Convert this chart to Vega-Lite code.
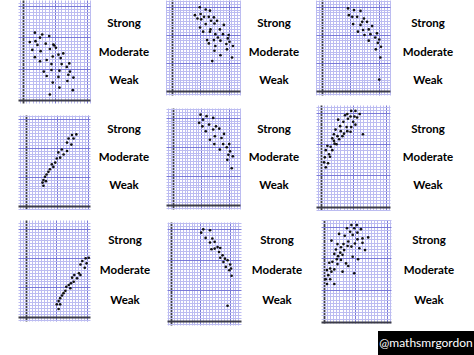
{
  "$schema": "https://vega.github.io/schema/vega-lite/v6.json",
  "padding": {"left": 18, "top": 0, "right": 0, "bottom": 0},
  "background": "white",
  "spacing": 0,
  "config": {
    "font": "Lato",
    "view": {"stroke": null},
    "axis": {
      "grid": true, "labels": false, "ticks": false, "domain": false, "title": null,
      "gridColor": {"condition": [{"test": "datum.value === 0", "value": "#3c3c48"}, {"test": "datum.value % 10 === 0", "value": "#7a7ad8"}], "value": "#bcbcf1"},
      "gridWidth": {"condition": {"test": "datum.value === 0", "value": 1.8}, "value": 1},
      "gridOpacity": 1
    },
    "point": {"filled": true, "size": 7, "color": "#111111", "opacity": 1}
  },
  "datasets": {
    "none": [],
    "labels": [{"label": "Strong"}, {"label": "Moderate"}, {"label": "Weak"}],
    "p1": [{"x":3.7,"y":21.5},{"x":6.0,"y":20.9},{"x":8.2,"y":20.4},{"x":2.1,"y":18.5},{"x":3.9,"y":18.8},{"x":5.3,"y":19.9},{"x":4.5,"y":17.6},{"x":7.1,"y":18.0},{"x":9.5,"y":17.7},{"x":9.8,"y":17.4},{"x":2.9,"y":16.0},{"x":5.5,"y":15.6},{"x":8.4,"y":16.3},{"x":10.3,"y":16.7},{"x":11.1,"y":14.5},{"x":12.6,"y":14.9},{"x":3.7,"y":13.7},{"x":5.3,"y":12.4},{"x":7.4,"y":12.8},{"x":9.3,"y":13.9},{"x":11.8,"y":13.4},{"x":14.5,"y":11.7},{"x":8.9,"y":11.5},{"x":12.1,"y":11.5},{"x":13.7,"y":10.6},{"x":6.5,"y":9.1},{"x":8.9,"y":9.6},{"x":11.4,"y":9.4},{"x":14.7,"y":9.1},{"x":7.4,"y":7.7},{"x":11.1,"y":7.4},{"x":14.2,"y":8.1},{"x":15.8,"y":7.2},{"x":9.3,"y":5.6},{"x":13.9,"y":6.1},{"x":11.4,"y":4.0},{"x":15.6,"y":3.2},{"x":8.4,"y":1.8}],
    "p2": [{"x":9.8,"y":29.8},{"x":11.9,"y":29.0},{"x":13.4,"y":28.6},{"x":8.1,"y":27.0},{"x":10.1,"y":27.4},{"x":11.3,"y":26.4},{"x":13.0,"y":26.4},{"x":14.8,"y":26.2},{"x":9.0,"y":25.8},{"x":10.3,"y":25.5},{"x":13.8,"y":25.0},{"x":15.9,"y":25.0},{"x":11.9,"y":23.8},{"x":15.0,"y":24.0},{"x":18.3,"y":23.5},{"x":9.9,"y":22.6},{"x":13.6,"y":21.9},{"x":16.9,"y":21.9},{"x":11.0,"y":21.1},{"x":13.4,"y":21.1},{"x":15.3,"y":20.2},{"x":18.0,"y":20.2},{"x":20.0,"y":19.9},{"x":16.2,"y":19.0},{"x":19.7,"y":18.7},{"x":12.4,"y":18.1},{"x":14.8,"y":18.1},{"x":17.1,"y":17.9},{"x":20.3,"y":17.5},{"x":13.0,"y":16.9},{"x":19.2,"y":16.7},{"x":21.5,"y":16.0},{"x":15.3,"y":16.0},{"x":19.4,"y":14.8},{"x":15.0,"y":14.3},{"x":17.1,"y":12.7},{"x":21.2,"y":11.9},{"x":14.2,"y":10.6}],
    "p3": [{"x":9.2,"y":29.4},{"x":11.3,"y":28.8},{"x":13.6,"y":28.5},{"x":9.5,"y":27.0},{"x":10.7,"y":26.4},{"x":12.4,"y":26.4},{"x":14.8,"y":25.8},{"x":14.2,"y":24.6},{"x":15.9,"y":24.6},{"x":11.0,"y":23.8},{"x":13.6,"y":23.5},{"x":17.7,"y":23.1},{"x":16.5,"y":21.9},{"x":14.5,"y":21.7},{"x":12.7,"y":21.1},{"x":19.4,"y":20.5},{"x":17.1,"y":20.2},{"x":15.0,"y":19.9},{"x":18.8,"y":19.0},{"x":20.2,"y":18.3},{"x":16.5,"y":17.9},{"x":19.7,"y":17.1},{"x":20.8,"y":15.7},{"x":19.0,"y":14.8},{"x":20.6,"y":11.9},{"x":20.2,"y":4.0}],
    "p4": [{"x":14.9,"y":24.4},{"x":16.3,"y":24.6},{"x":13.8,"y":23.2},{"x":15.4,"y":23.2},{"x":13.3,"y":21.8},{"x":14.7,"y":21.1},{"x":11.6,"y":19.4},{"x":13.3,"y":18.9},{"x":10.5,"y":18.4},{"x":12.2,"y":17.7},{"x":11.1,"y":16.6},{"x":10.0,"y":16.3},{"x":9.5,"y":14.9},{"x":8.4,"y":14.3},{"x":8.9,"y":13.4},{"x":7.8,"y":12.6},{"x":7.3,"y":11.7},{"x":6.7,"y":10.8},{"x":6.2,"y":10.0},{"x":5.7,"y":8.9},{"x":5.4,"y":8.0},{"x":6.5,"y":8.5},{"x":5.7,"y":6.9}],
    "p5": [{"x":9.8,"y":31.0},{"x":12.0,"y":30.5},{"x":14.4,"y":29.9},{"x":10.7,"y":29.3},{"x":9.3,"y":28.2},{"x":12.9,"y":27.6},{"x":15.4,"y":27.0},{"x":10.5,"y":27.0},{"x":14.4,"y":25.9},{"x":16.6,"y":26.2},{"x":11.7,"y":25.3},{"x":18.3,"y":24.4},{"x":15.0,"y":23.6},{"x":13.2,"y":22.4},{"x":17.4,"y":23.0},{"x":14.8,"y":20.9},{"x":18.0,"y":20.9},{"x":20.2,"y":20.9},{"x":16.8,"y":19.0},{"x":19.3,"y":19.8},{"x":20.5,"y":18.4},{"x":19.9,"y":17.2},{"x":21.5,"y":16.7},{"x":19.5,"y":15.5},{"x":21.1,"y":12.6}],
    "p6": [{"x":9.3,"y":30.7},{"x":10.6,"y":30.7},{"x":8.1,"y":29.7},{"x":11.9,"y":29.7},{"x":7.4,"y":29.3},{"x":9.1,"y":28.9},{"x":10.3,"y":28.9},{"x":11.1,"y":28.6},{"x":5.3,"y":27.9},{"x":8.3,"y":28.2},{"x":6.9,"y":27.2},{"x":9.9,"y":27.2},{"x":5.9,"y":25.8},{"x":10.6,"y":26.3},{"x":4.5,"y":24.7},{"x":7.9,"y":25.5},{"x":9.3,"y":25.5},{"x":6.1,"y":24.2},{"x":8.1,"y":24.2},{"x":7.1,"y":23.4},{"x":9.1,"y":24.0},{"x":12.9,"y":23.2},{"x":4.0,"y":23.2},{"x":5.1,"y":22.6},{"x":6.6,"y":22.6},{"x":3.5,"y":21.9},{"x":5.6,"y":21.6},{"x":4.0,"y":21.1},{"x":4.2,"y":20.2},{"x":4.8,"y":20.0},{"x":3.0,"y":19.2},{"x":2.0,"y":19.5},{"x":3.5,"y":18.1},{"x":1.5,"y":18.1},{"x":2.5,"y":16.8},{"x":1.2,"y":15.8},{"x":2.8,"y":16.0},{"x":1.0,"y":14.2},{"x":2.2,"y":13.9},{"x":1.5,"y":12.6}],
    "p7": [{"x":20.5,"y":20.1},{"x":19.5,"y":19.9},{"x":18.4,"y":19.0},{"x":19.8,"y":18.2},{"x":17.8,"y":17.8},{"x":19.2,"y":16.7},{"x":17.3,"y":14.8},{"x":15.8,"y":14.2},{"x":17.8,"y":14.2},{"x":15.1,"y":13.3},{"x":16.7,"y":13.1},{"x":15.6,"y":11.9},{"x":14.7,"y":11.4},{"x":14.0,"y":10.8},{"x":13.2,"y":10.2},{"x":14.5,"y":9.7},{"x":12.9,"y":8.8},{"x":12.3,"y":8.0},{"x":11.8,"y":7.2},{"x":11.2,"y":6.3},{"x":10.7,"y":5.3},{"x":10.1,"y":4.2},{"x":11.2,"y":4.2},{"x":10.7,"y":2.6}],
    "p8": [{"x":11.0,"y":30.0},{"x":13.3,"y":29.7},{"x":10.3,"y":28.9},{"x":11.8,"y":27.2},{"x":14.1,"y":27.0},{"x":14.9,"y":25.9},{"x":13.3,"y":25.7},{"x":15.9,"y":24.2},{"x":16.8,"y":23.9},{"x":13.8,"y":23.5},{"x":14.9,"y":23.7},{"x":16.4,"y":22.6},{"x":17.6,"y":21.5},{"x":16.8,"y":20.7},{"x":18.4,"y":20.4},{"x":19.3,"y":19.9},{"x":17.9,"y":19.3},{"x":20.2,"y":18.5},{"x":18.7,"y":17.7},{"x":20.5,"y":17.2},{"x":19.9,"y":16.6},{"x":20.7,"y":14.8},{"x":19.3,"y":5.0}],
    "p9": [{"x":8.8,"y":30.5},{"x":10.5,"y":30.5},{"x":7.4,"y":29.5},{"x":9.7,"y":29.5},{"x":11.8,"y":29.2},{"x":8.4,"y":28.4},{"x":10.7,"y":28.1},{"x":4.9,"y":27.7},{"x":6.7,"y":27.1},{"x":9.2,"y":27.4},{"x":14.1,"y":26.6},{"x":12.3,"y":26.3},{"x":10.7,"y":26.0},{"x":2.5,"y":25.6},{"x":7.8,"y":25.3},{"x":9.9,"y":24.7},{"x":4.4,"y":24.5},{"x":6.3,"y":24.5},{"x":12.3,"y":24.9},{"x":5.5,"y":23.5},{"x":7.6,"y":23.9},{"x":8.8,"y":23.7},{"x":6.5,"y":22.6},{"x":11.3,"y":23.2},{"x":13.1,"y":22.6},{"x":3.9,"y":22.8},{"x":5.3,"y":21.8},{"x":3.4,"y":21.4},{"x":4.6,"y":20.7},{"x":6.0,"y":21.1},{"x":9.2,"y":20.5},{"x":4.2,"y":19.7},{"x":10.9,"y":19.7},{"x":5.5,"y":19.5},{"x":2.8,"y":18.9},{"x":1.8,"y":18.6},{"x":7.1,"y":18.4},{"x":4.4,"y":18.2},{"x":7.8,"y":17.6},{"x":2.1,"y":16.8},{"x":3.4,"y":16.5},{"x":1.1,"y":16.3},{"x":2.5,"y":15.8},{"x":6.0,"y":15.8},{"x":9.7,"y":15.3},{"x":1.5,"y":14.7},{"x":0.7,"y":13.4},{"x":2.1,"y":13.4},{"x":1.1,"y":11.9},{"x":3.4,"y":11.9}]
  },
  "vconcat": [
    {"spacing": 0, "hconcat": [
      {"width": 72, "height": 103, "data": {"name": "p1"}, "mark": "point",
       "encoding": {"x": {"field": "x", "type": "quantitative", "scale": {"domain": [-1.6, 21], "nice": false, "zero": false}, "axis": {"title": null, "values": [-1,0,1,2,3,4,5,6,7,8,9,10,11,12,13,14,15,16,17,18,19,20,21]}},
                    "y": {"field": "y", "type": "quantitative", "scale": {"domain": [-0.9, 31.9], "nice": false, "zero": false}, "axis": {"title": null, "values": [0,1,2,3,4,5,6,7,8,9,10,11,12,13,14,15,16,17,18,19,20,21,22,23,24,25,26,27,28,29,30,31]}}}},
      {"width": 76, "height": 105, "data": {"name": "labels"}, "mark": {"type": "text", "fontWeight": "bold", "fontSize": 11.5, "dx": -4, "baseline": "middle"},
       "encoding": {"y": {"field": "label", "type": "nominal", "sort": ["Strong", "Moderate", "Weak"], "scale": {"type": "point", "padding": 0.842}, "axis": null}, "text": {"field": "label"}}},
      {"width": 74, "height": 95, "data": {"name": "p2"}, "mark": "point",
       "encoding": {"x": {"field": "x", "type": "quantitative", "scale": {"domain": [-2.1, 24], "nice": false, "zero": false}, "axis": {"title": null, "values": [-2,-1,0,1,2,3,4,5,6,7,8,9,10,11,12,13,14,15,16,17,18,19,20,21,22,23,24]}},
                    "y": {"field": "y", "type": "quantitative", "scale": {"domain": [-1.5, 32.4], "nice": false, "zero": false}, "axis": {"title": null, "values": [-1,0,1,2,3,4,5,6,7,8,9,10,11,12,13,14,15,16,17,18,19,20,21,22,23,24,25,26,27,28,29,30,31,32]}}}},
      {"width": 76, "height": 105, "data": {"name": "labels"}, "mark": {"type": "text", "fontWeight": "bold", "fontSize": 11.5, "dx": -4, "baseline": "middle"},
       "encoding": {"y": {"field": "label", "type": "nominal", "sort": ["Strong", "Moderate", "Weak"], "scale": {"type": "point", "padding": 0.842}, "axis": null}, "text": {"field": "label"}}},
      {"width": 74, "height": 95, "data": {"name": "p3"}, "mark": "point",
       "encoding": {"x": {"field": "x", "type": "quantitative", "scale": {"domain": [-2.1, 24], "nice": false, "zero": false}, "axis": {"title": null, "values": [-2,-1,0,1,2,3,4,5,6,7,8,9,10,11,12,13,14,15,16,17,18,19,20,21,22,23,24]}},
                    "y": {"field": "y", "type": "quantitative", "scale": {"domain": [-1.5, 32.4], "nice": false, "zero": false}, "axis": {"title": null, "values": [-1,0,1,2,3,4,5,6,7,8,9,10,11,12,13,14,15,16,17,18,19,20,21,22,23,24,25,26,27,28,29,30,31,32]}}}},
      {"width": 84, "height": 105, "data": {"name": "labels"}, "mark": {"type": "text", "fontWeight": "bold", "fontSize": 11.5, "dx": -4, "baseline": "middle"},
       "encoding": {"y": {"field": "label", "type": "nominal", "sort": ["Strong", "Moderate", "Weak"], "scale": {"type": "point", "padding": 0.842}, "axis": null}, "text": {"field": "label"}}}
    ]},
    {"spacing": 0, "hconcat": [
      {"spacing": 0, "vconcat": [
        {"width": 72, "height": 10, "data": {"name": "none"}, "mark": {"type": "point"}},
        {"width": 72, "height": 94, "data": {"name": "p4"}, "mark": "point",
         "encoding": {"x": {"field": "x", "type": "quantitative", "scale": {"domain": [-2.5, 20.7], "nice": false, "zero": false}, "axis": {"title": null, "values": [-2,-1,0,1,2,3,4,5,6,7,8,9,10,11,12,13,14,15,16,17,18,19,20]}},
                      "y": {"field": "y", "type": "quantitative", "scale": {"domain": [-1.1, 31.3], "nice": false, "zero": false}, "axis": {"title": null, "values": [-1,0,1,2,3,4,5,6,7,8,9,10,11,12,13,14,15,16,17,18,19,20,21,22,23,24,25,26,27,28,29,30,31]}}}}
      ]},
      {"width": 76, "height": 106, "data": {"name": "labels"}, "mark": {"type": "text", "fontWeight": "bold", "fontSize": 11.5, "dx": -4, "baseline": "middle"},
       "encoding": {"y": {"field": "label", "type": "nominal", "sort": ["Strong", "Moderate", "Weak"], "scale": {"type": "point", "padding": 0.86}, "axis": null}, "text": {"field": "label"}}},
      {"spacing": 0, "vconcat": [
        {"width": 74, "height": 3, "data": {"name": "none"}, "mark": {"type": "point"}},
        {"width": 74, "height": 101, "data": {"name": "p5"}, "mark": "point",
         "encoding": {"x": {"field": "x", "type": "quantitative", "scale": {"domain": [-2.7, 24.1], "nice": false, "zero": false}, "axis": {"title": null, "values": [-2,-1,0,1,2,3,4,5,6,7,8,9,10,11,12,13,14,15,16,17,18,19,20,21,22,23,24]}},
                      "y": {"field": "y", "type": "quantitative", "scale": {"domain": [-1.4, 33.3], "nice": false, "zero": false}, "axis": {"title": null, "values": [-1,0,1,2,3,4,5,6,7,8,9,10,11,12,13,14,15,16,17,18,19,20,21,22,23,24,25,26,27,28,29,30,31,32,33]}}}}
      ]},
      {"width": 76, "height": 106, "data": {"name": "labels"}, "mark": {"type": "text", "fontWeight": "bold", "fontSize": 11.5, "dx": -4, "baseline": "middle"},
       "encoding": {"y": {"field": "label", "type": "nominal", "sort": ["Strong", "Moderate", "Weak"], "scale": {"type": "point", "padding": 0.86}, "axis": null}, "text": {"field": "label"}}},
      {"width": 74, "height": 105, "data": {"name": "p6"}, "mark": "point",
       "encoding": {"x": {"field": "x", "type": "quantitative", "scale": {"domain": [-1.5, 21.2], "nice": false, "zero": false}, "axis": {"title": null, "values": [-1,0,1,2,3,4,5,6,7,8,9,10,11,12,13,14,15,16,17,18,19,20,21]}},
                    "y": {"field": "y", "type": "quantitative", "scale": {"domain": [-1.1, 32.6], "nice": false, "zero": false}, "axis": {"title": null, "values": [-1,0,1,2,3,4,5,6,7,8,9,10,11,12,13,14,15,16,17,18,19,20,21,22,23,24,25,26,27,28,29,30,31,32]}}}},
      {"width": 84, "height": 106, "data": {"name": "labels"}, "mark": {"type": "text", "fontWeight": "bold", "fontSize": 11.5, "dx": -4, "baseline": "middle"},
       "encoding": {"y": {"field": "label", "type": "nominal", "sort": ["Strong", "Moderate", "Weak"], "scale": {"type": "point", "padding": 0.86}, "axis": null}, "text": {"field": "label"}}}
    ]},
    {"spacing": 0, "hconcat": [
      {"spacing": 0, "vconcat": [
        {"width": 72, "height": 9, "data": {"name": "none"}, "mark": {"type": "point"}},
        {"width": 72, "height": 101, "data": {"name": "p7"}, "mark": "point",
         "encoding": {"x": {"field": "x", "type": "quantitative", "scale": {"domain": [-2.5, 20.9], "nice": false, "zero": false}, "axis": {"title": null, "values": [-2,-1,0,1,2,3,4,5,6,7,8,9,10,11,12,13,14,15,16,17,18,19,20]}},
                      "y": {"field": "y", "type": "quantitative", "scale": {"domain": [-1.5, 33], "nice": false, "zero": false}, "axis": {"title": null, "values": [-1,0,1,2,3,4,5,6,7,8,9,10,11,12,13,14,15,16,17,18,19,20,21,22,23,24,25,26,27,28,29,30,31,32]}}}}
      ]},
      {"width": 76, "height": 120, "data": {"name": "labels"}, "mark": {"type": "text", "fontWeight": "bold", "fontSize": 11.5, "dx": -4, "baseline": "middle"},
       "encoding": {"y": {"field": "label", "type": "nominal", "sort": ["Strong", "Moderate", "Weak"], "scale": {"type": "point", "padding": 1.105}, "axis": null}, "text": {"field": "label"}}},
      {"spacing": 0, "vconcat": [
        {"width": 74, "height": 11, "data": {"name": "none"}, "mark": {"type": "point"}},
        {"width": 74, "height": 103, "data": {"name": "p8"}, "mark": "point",
         "encoding": {"x": {"field": "x", "type": "quantitative", "scale": {"domain": [-1.4, 23.9], "nice": false, "zero": false}, "axis": {"title": null, "values": [-1,0,1,2,3,4,5,6,7,8,9,10,11,12,13,14,15,16,17,18,19,20,21,22,23]}},
                      "y": {"field": "y", "type": "quantitative", "scale": {"domain": [-1.3, 32.4], "nice": false, "zero": false}, "axis": {"title": null, "values": [-1,0,1,2,3,4,5,6,7,8,9,10,11,12,13,14,15,16,17,18,19,20,21,22,23,24,25,26,27,28,29,30,31,32]}}}}
      ]},
      {"width": 80, "height": 120, "data": {"name": "labels"}, "mark": {"type": "text", "fontWeight": "bold", "fontSize": 11.5, "dx": -4, "baseline": "middle"},
       "encoding": {"y": {"field": "label", "type": "nominal", "sort": ["Strong", "Moderate", "Weak"], "scale": {"type": "point", "padding": 1.105}, "axis": null}, "text": {"field": "label"}}},
      {"spacing": 0, "vconcat": [
        {"width": 70, "height": 9, "data": {"name": "none"}, "mark": {"type": "point"}},
        {"width": 70, "height": 103, "data": {"name": "p9"}, "mark": "point",
         "encoding": {"x": {"field": "x", "type": "quantitative", "scale": {"domain": [-0.8, 21.3], "nice": false, "zero": false}, "axis": {"title": null, "values": [0,1,2,3,4,5,6,7,8,9,10,11,12,13,14,15,16,17,18,19,20,21]}},
                      "y": {"field": "y", "type": "quantitative", "scale": {"domain": [-0.4, 32.1], "nice": false, "zero": false}, "axis": {"title": null, "values": [0,1,2,3,4,5,6,7,8,9,10,11,12,13,14,15,16,17,18,19,20,21,22,23,24,25,26,27,28,29,30,31,32]}}}}
      ]},
      {"width": 84, "height": 120, "data": {"name": "labels"}, "mark": {"type": "text", "fontWeight": "bold", "fontSize": 11.5, "dx": -4, "baseline": "middle"},
       "encoding": {"y": {"field": "label", "type": "nominal", "sort": ["Strong", "Moderate", "Weak"], "scale": {"type": "point", "padding": 1.105}, "axis": null}, "text": {"field": "label"}}}
    ]},
    {"spacing": 0, "hconcat": [
      {"width": 360, "height": 24, "data": {"name": "none"}, "mark": {"type": "point"}},
      {"width": 96, "height": 24, "data": {"values": [{"handle": "@mathsmrgordon"}]}, "view": {"fill": "black", "stroke": null},
       "mark": {"type": "text", "color": "white", "fontSize": 12, "baseline": "middle"},
       "encoding": {"text": {"field": "handle"}}}
    ]}
  ]
}
